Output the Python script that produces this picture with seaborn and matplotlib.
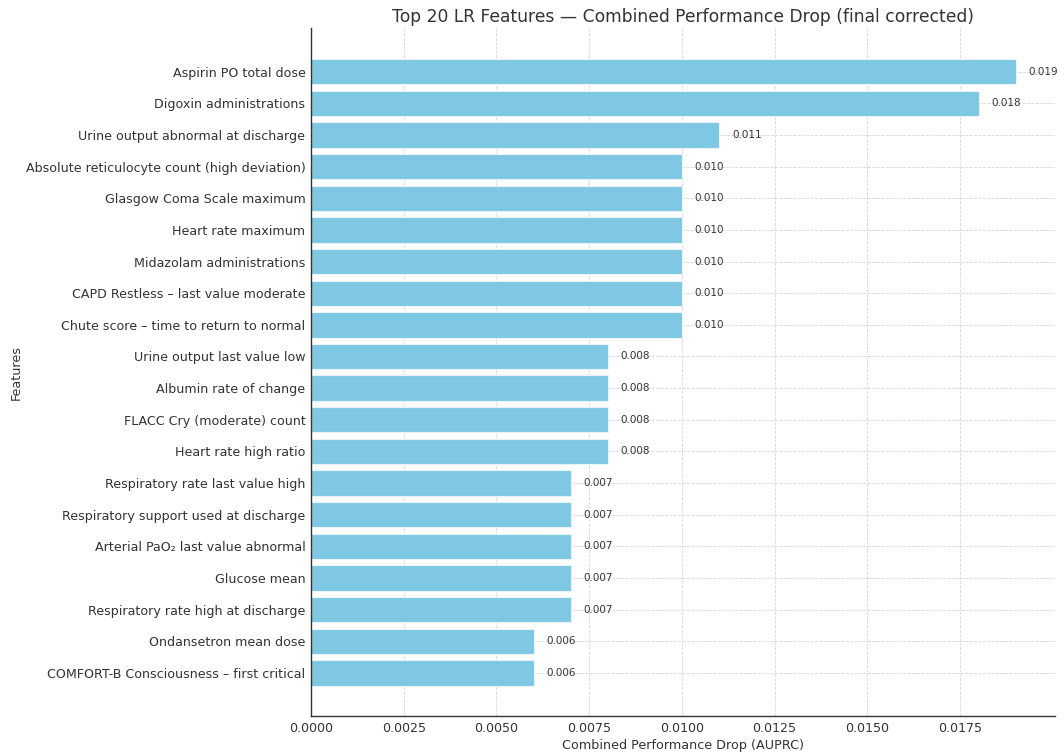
import matplotlib
matplotlib.use("Agg")
import matplotlib.pyplot as plt
import seaborn as sns
import pandas as pd

features = [
    "Aspirin PO total dose",
    "Digoxin administrations",
    "Urine output abnormal at discharge",
    "Absolute reticulocyte count (high deviation)",
    "Glasgow Coma Scale maximum",
    "Heart rate maximum",
    "Midazolam administrations",
    "CAPD Restless \u2013 last value moderate",
    "Chute score \u2013 time to return to normal",
    "Urine output last value low",
    "Albumin rate of change",
    "FLACC Cry (moderate) count",
    "Heart rate high ratio",
    "Respiratory rate last value high",
    "Respiratory support used at discharge",
    "Arterial PaO\u2082 last value abnormal",
    "Glucose mean",
    "Respiratory rate high at discharge",
    "Ondansetron mean dose",
    "COMFORT-B Consciousness \u2013 first critical",
]
drops = [0.019, 0.018, 0.011, 0.010, 0.010, 0.010, 0.010, 0.010, 0.010,
         0.008, 0.008, 0.008, 0.008, 0.007, 0.007, 0.007, 0.007, 0.007,
         0.006, 0.006]

df = pd.DataFrame({"Feature": features, "Drop": drops})

sns.set_style("whitegrid")
plt.rcParams["font.family"] = ["DejaVu Sans"]
plt.rcParams["xtick.direction"] = "in"
plt.rcParams["ytick.direction"] = "in"

fig = plt.figure(figsize=(10.64, 7.53), dpi=100)
ax = fig.add_axes([311 / 1064, 1 - 716 / 753, (1055 - 311) / 1064, (716 - 28) / 753])

sns.barplot(data=df, x="Drop", y="Feature", ax=ax, color="#7EC8E3",
            saturation=1, width=0.8, edgecolor="#E6F4FA", linewidth=0.8)

for i, v in enumerate(drops):
    ax.text(v + 0.00035, i, f"{v:.3f}", va="center", ha="left",
            fontsize=7.5, color="#333333")

ax.set_xlim(0, 0.02006)
ax.set_ylim(20.36, -1.38)
ax.set_title("Top 20 LR Features \u2014 Combined Performance Drop (final corrected)",
             fontsize=12.3, color="#333333", pad=4)
ax.set_xlabel("Combined Performance Drop (AUPRC)", fontsize=9.2, color="#333333", labelpad=3)
ax.set_ylabel("Features", fontsize=9.2, color="#333333")
ax.yaxis.set_label_coords(-(311 - 23) / 744, 0.5)
ax.tick_params(axis="both", labelsize=9.1, colors="#333333", length=4, width=0.8)
ax.tick_params(axis="x", pad=4)
ax.tick_params(axis="y", pad=4)
ax.set_xticks([0, 0.0025, 0.005, 0.0075, 0.01, 0.0125, 0.015, 0.0175])
ax.set_xticklabels(["0.0000", "0.0025", "0.0050", "0.0075", "0.0100",
                    "0.0125", "0.0150", "0.0175"])

ax.grid(True, axis="both", linestyle="--", color="#CCCCCC", linewidth=0.6, alpha=0.8)
ax.set_axisbelow(True)
for side in ["top", "right"]:
    ax.spines[side].set_visible(False)
for side in ["left", "bottom"]:
    ax.spines[side].set_color("#333333")
    ax.spines[side].set_linewidth(1.0)

fig.savefig("out.png", dpi=100)
